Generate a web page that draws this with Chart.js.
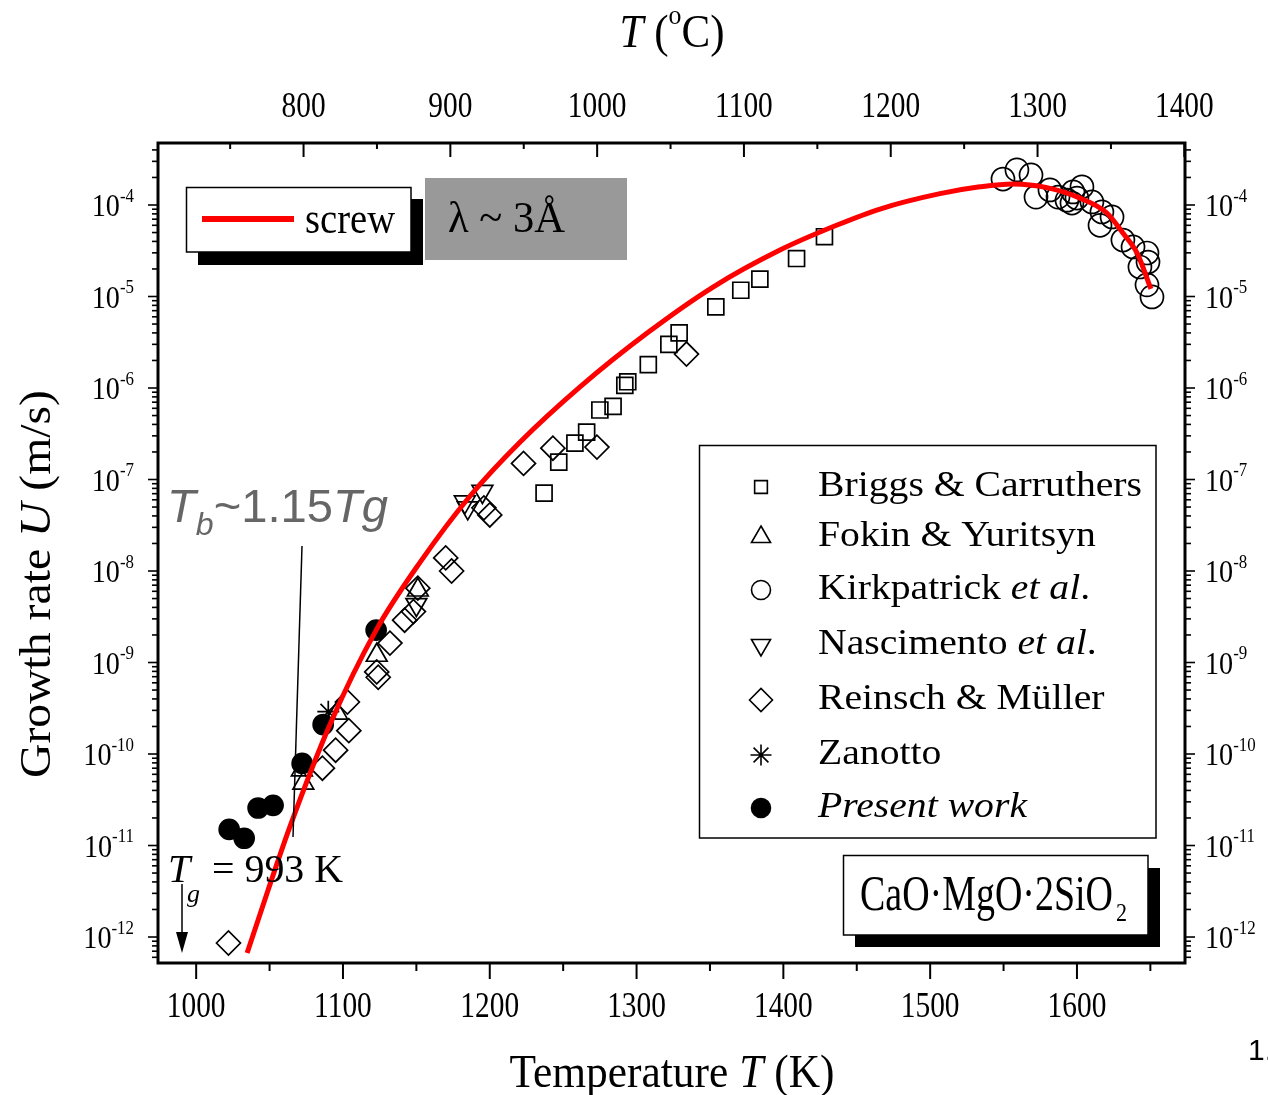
<!DOCTYPE html>
<html><head><meta charset="utf-8">
<script src="https://cdn.jsdelivr.net/npm/chart.js@4/dist/chart.umd.min.js"></script>
<style>html,body{margin:0;padding:0;background:#fff;overflow:hidden}canvas{display:block}</style>
</head><body>
<canvas id="c" width="1268" height="1095"></canvas>
<script>
// ---------------- data ----------------
const curveT = [1034.7,1049.0,1064.0,1091.3,1122.6,1152.6,1186.6,1220.7,1261.5,1307.2,1352.1,1397.7,1436.6,1465.8,1506.7,1533.9,1556.4,1579.6,1602.1,1620.4,1631.3,1640.9,1650.4];
const curveU = [6.68e-13,3.27e-12,1.63e-11,2.13e-10,2.26e-9,1.25e-8,6.6e-8,2.57e-7,1.03e-6,3.99e-6,1.27e-5,3.22e-5,6.04e-5,9.04e-5,1.33e-4,1.58e-4,1.70e-4,1.55e-4,1.19e-4,8.18e-5,4.94e-5,2.99e-5,1.21e-5];

const briggsT = [1428,1409,1384,1371,1354,1329,1322,1308,1294,1292,1284,1275,1266,1258,1247,1237];
const briggsU = [4.5e-5,2.6e-5,1.55e-5,1.17e-5,7.7e-6,4.0e-6,3.0e-6,1.8e-6,1.17e-6,1.07e-6,6.3e-7,5.75e-7,3.3e-7,2.5e-7,1.55e-7,7.1e-8];

const fokinT = [1072,1073,1096,1123,1151];
const fokinU = [6.7e-11,4.8e-11,2.8e-10,1.2e-9,6.2e-9];

const kirkT = [1549.6,1559.1,1568.7,1572.1,1581.6,1587.1,1593.2,1596.6,1600,1603.4,1597.3,1610.2,1617,1615.7,1623.9,1631.3,1638.2,1642.9,1647.7,1648.4,1647.7,1651.1];
const kirkU = [1.92e-4,2.42e-4,2.13e-4,1.22e-4,1.46e-4,1.22e-4,1.13e-4,1.05e-4,1.19e-4,1.58e-4,1.39e-4,1.08e-4,8.4e-5,6.0e-5,7.4e-5,4.14e-5,3.48e-5,2.1e-5,2.99e-5,2.38e-5,1.34e-5,9.9e-6];

const nascT = [1183,1185,1195,1150];
const nascU = [5.7e-8,4.9e-8,7.4e-8,4.3e-9];

const reinschT = [1334,1273,1243,1223,1196,1200,1170,1174,1151,1148,1142,1132,1123,1124,1103,1104,1095,1086,1022];
const reinschU = [2.35e-6,2.26e-7,2.2e-7,1.5e-7,4.9e-8,4.1e-8,1.39e-8,1.0e-8,6.5e-9,3.6e-9,2.9e-9,1.63e-9,7.9e-10,6.9e-10,3.7e-10,1.8e-10,1.1e-10,7.0e-11,8.6e-13];

const zanottoT = [1090];
const zanottoU = [2.9e-10];

const presentT = [1022.5,1032.7,1042.2,1052.4,1072.2,1086.5,1122.6];
const presentU = [1.5e-11,1.2e-11,2.57e-11,2.75e-11,7.9e-11,2.1e-10,2.26e-9];

const kTicks = [1000,1100,1200,1300,1400,1500,1600];
const kMinor = [1050,1150,1250,1350,1450,1550,1650];
const cTicks = [800,900,1000,1100,1200,1300,1400];
const cMinor = [750,850,950,1050,1150,1250,1350];
const yExps = [-12,-11,-10,-9,-8,-7,-6,-5,-4];

const legendNames = ['Briggs & Carruthers','Fokin & Yuritsyn','Kirkpatrick et al.','Nascimento et al.','Reinsch & Müller','Zanotto','Present work'];

// ---------------- helpers ----------------
const SERIF = '"Liberation Serif", "Times New Roman", serif';
const SANS = '"Liberation Sans", Arial, sans-serif';
function font(size, it, fam){ return (it?'italic ':'') + size + 'px ' + fam; }
function measureRich(ctx, segs, size, fam){
  let w=0; for(const s of segs){ ctx.font=font(size*(s.k||1), s.it, fam); w+=ctx.measureText(s.t).width; } return w;
}
function drawRich(ctx, segs, x, y, o){
  const size=o.size, fam=o.fam||SERIF;
  const nat=measureRich(ctx, segs, size, fam);
  const sx = o.width ? o.width/nat : (o.sx||1);
  const tw = nat*sx;
  const x0 = o.align==='center' ? -tw/2 : (o.align==='right' ? -tw : 0);
  ctx.save();
  ctx.translate(x,y);
  if(o.rot) ctx.rotate(o.rot);
  ctx.translate(x0,0);
  ctx.scale(sx,1);
  ctx.fillStyle=o.color||'#000';
  ctx.textBaseline='alphabetic'; ctx.textAlign='left';
  let cx=0;
  for(const s of segs){ ctx.font=font(size*(s.k||1), s.it, fam); ctx.fillText(s.t, cx, (s.dy||0)*size); cx+=ctx.measureText(s.t).width; }
  ctx.restore();
  return sx;
}
function line(ctx,x1,y1,x2,y2,w,c){ ctx.beginPath(); ctx.moveTo(x1,y1); ctx.lineTo(x2,y2); ctx.lineWidth=w; ctx.strokeStyle=c||'#000'; ctx.stroke(); }
function pts(T,U){ return T.map((t,i)=>({x:t,y:U[i]})); }

const markerStyles = [
  {pointStyle:'rect', fill:false},
  {pointStyle:'triangle', fill:false},
  {pointStyle:'circle', fill:false},
  {pointStyle:'triangle', rotation:180, fill:false},
  {pointStyle:'rectRot', fill:false},
  {pointStyle:'star', fill:false},
  {pointStyle:'circle', fill:true}
];

const framePlugin = {
  id:'frame',
  beforeDraw(chart){ const c=chart.ctx; c.save(); c.fillStyle='#fff'; c.fillRect(0,0,chart.width,chart.height); c.restore(); },
  afterDraw(chart){
    const ctx=chart.ctx, a=chart.chartArea;
    const x=chart.scales.x, x2=chart.scales.x2, y=chart.scales.y, y2=chart.scales.y2;
    ctx.save();
    ctx.lineCap='butt';
    // ticks
    for(const t of kTicks){ const px=x.getPixelForValue(t); line(ctx,px,a.bottom,px,a.bottom+16,2); }
    for(const t of kMinor){ const px=x.getPixelForValue(t); if(px<a.right) line(ctx,px,a.bottom,px,a.bottom+8,2); }
    for(const t of cTicks){ const px=x2.getPixelForValue(t); if(px<=a.right+1) line(ctx,px,a.top,px,a.top+14,2); }
    for(const t of cMinor){ const px=x2.getPixelForValue(t); line(ctx,px,a.top,px,a.top+6,2); }
    for(const e of yExps.concat([-3])){
      for(let m=1;m<=9;m++){
        const v=m*Math.pow(10,e); const py=y.getPixelForValue(v);
        if(py<a.top-1||py>a.bottom+1) continue;
        const L = m===1?10:6;
        line(ctx,a.left-L,py,a.left,py,1.6);
        line(ctx,a.right,py,a.right+L,py,1.6);
      }
    }
    for(const m of [6,7,8,9]){ const py=y.getPixelForValue(m*1e-13); if(py<=a.bottom){ line(ctx,a.left-6,py,a.left,py,1.6); line(ctx,a.right,py,a.right+6,py,1.6);} }
    // frame
    ctx.lineWidth=3; ctx.strokeStyle='#000'; ctx.strokeRect(a.left,a.top,a.right-a.left,a.bottom-a.top);

    // tick labels
    for(const t of kTicks){ drawRich(ctx,[{t:String(t)}],x.getPixelForValue(t),1017,{size:35,sx:0.84,align:'center'}); }
    for(const t of cTicks){ drawRich(ctx,[{t:String(t)}],x2.getPixelForValue(t),117,{size:35,sx:0.84,align:'center'}); }
    for(const e of yExps){
      const py=y.getPixelForValue(Math.pow(10,e));
      const segs=[{t:'10'},{t:String(e),k:0.6,dy:-0.45}];
      drawRich(ctx,segs,134,py+11,{size:32,sx:0.88,align:'right'});
      const py2=y2.getPixelForValue(Math.pow(10,e));
      drawRich(ctx,segs,1205,py2+11,{size:32,sx:0.88,align:'left'});
    }
    // axis titles
    drawRich(ctx,[{t:'T',it:1},{t:' ('},{t:'o',k:0.6,dy:-0.5},{t:'C)'}],672,47,{size:46,width:105,align:'center'});
    drawRich(ctx,[{t:'Temperature '},{t:'T',it:1},{t:' (K)'}],672,1087,{size:46,width:325,align:'center'});
    drawRich(ctx,[{t:'Growth rate '},{t:'U',it:1},{t:' (m/s)'}],50,584,{size:44,width:388,align:'center',rot:-Math.PI/2});

    // screw legend
    ctx.fillStyle='#000'; ctx.fillRect(198,199,225,66);
    ctx.fillStyle='#fff'; ctx.fillRect(186,187,225,65);
    ctx.lineWidth=1.5; ctx.strokeStyle='#000'; ctx.strokeRect(186.5,187.5,224.5,64.5);
    line(ctx,202,219,294,219,6,'#ff0000');
    drawRich(ctx,[{t:'screw'}],305,233,{size:44,width:90});
    // lambda box
    ctx.fillStyle='#999999'; ctx.fillRect(425,178,202,82);
    drawRich(ctx,[{t:'λ ~ 3Å'}],448,232,{size:44,width:117});

    // data legend
    ctx.fillStyle='#fff'; ctx.fillRect(699,445,457,393);
    ctx.lineWidth=1.5; ctx.strokeStyle='#000'; ctx.strokeRect(699.5,445.5,456.5,392.5);
    const rowY=[487,537,590,645,700,755,808];
    ctx.font=font(36,false,SERIF);
    const lsx = 324/ctx.measureText('Briggs & Carruthers').width;
    const rows=[
      [{t:'Briggs & Carruthers'}],
      [{t:'Fokin & Yuritsyn'}],
      [{t:'Kirkpatrick '},{t:'et al',it:1},{t:'.'}],
      [{t:'Nascimento '},{t:'et al',it:1},{t:'.'}],
      [{t:'Reinsch & Müller'}],
      [{t:'Zanotto'}],
      [{t:'Present work',it:1}]
    ];
    for(let i=0;i<7;i++){
      const ms=markerStyles[i];
      const legR = [9,11,9.5,11,11.5,10.5,9.5][i];
      ctx.save();
      ctx.lineWidth=1.6; ctx.strokeStyle='#000'; ctx.fillStyle=ms.fill?'#000':'rgba(0,0,0,0)';
      Chart.helpers.drawPoint(ctx,{pointStyle:ms.pointStyle,radius:legR,rotation:ms.rotation||0,borderWidth:1.6},761,rowY[i]);
      ctx.restore();
      drawRich(ctx,rows[i],818,rowY[i]+9,{size:36,sx:lsx});
    }

    // CaO box
    ctx.fillStyle='#000'; ctx.fillRect(855,868,305,79);
    ctx.fillStyle='#fff'; ctx.fillRect(843,855,305,80);
    ctx.lineWidth=1.5; ctx.strokeStyle='#000'; ctx.strokeRect(843.5,855.5,304.5,79.5);
    drawRich(ctx,[{t:'CaO·MgO·2SiO'}],860,910,{size:50,width:253});
    drawRich(ctx,[{t:'2'}],1116,921,{size:26,sx:0.85});

    // Tb annotation
    drawRich(ctx,[{t:'T',it:1},{t:'b',it:1,k:0.68,dy:0.28},{t:'~1.15'},{t:'Tg',it:1}],167,522,{size:46,width:221,fam:SANS,color:'#666666'});
    line(ctx,302,546,293,837,1.5);

    // Tg annotation
    drawRich(ctx,[{t:'T',it:1}],168,882,{size:40,sx:1});
    drawRich(ctx,[{t:'g',it:1}],187,902,{size:26,sx:1});
    drawRich(ctx,[{t:'= 993 K'}],212,882,{size:40,width:131});
    line(ctx,182,884,182,936,1.5);
    ctx.beginPath(); ctx.moveTo(182,953); ctx.lineTo(176,932); ctx.lineTo(188,932); ctx.closePath(); ctx.fillStyle='#000'; ctx.fill();

    // cropped page number
    drawRich(ctx,[{t:'1.'}],1248,1060,{size:30,fam:SANS});
    ctx.restore();
  }
};

const mk = (label,T,U,i,order)=>{
  const ms=markerStyles[i];
  const r=[11.3,12,11.5,12,12,11,10][i];
  return {label, data:pts(T,U), pointStyle:ms.pointStyle, pointRadius:r, pointRotation:ms.rotation||0,
    pointBorderWidth:1.7, borderColor:'#000', pointBorderColor:'#000',
    pointBackgroundColor: ms.fill?'#000':'rgba(0,0,0,0)', backgroundColor: ms.fill?'#000':'rgba(0,0,0,0)',
    showLine:false, order};
};

new Chart(document.getElementById('c'),{
  type:'scatter',
  data:{datasets:[
    {label:'screw', data:pts(curveT,curveU), showLine:true, borderColor:'#ff0000', borderWidth:5, pointRadius:0, cubicInterpolationMode:'monotone', fill:false, order:0},
    mk(legendNames[6],presentT,presentU,6,1),
    mk(legendNames[0],briggsT,briggsU,0,2),
    mk(legendNames[1],fokinT,fokinU,1,2),
    mk(legendNames[2],kirkT,kirkU,2,2),
    mk(legendNames[3],nascT,nascU,3,2),
    mk(legendNames[4],reinschT,reinschU,4,2),
    mk(legendNames[5],zanottoT,zanottoU,5,2)
  ]},
  options:{
    responsive:false, animation:false, devicePixelRatio:1,
    layout:{padding:{left:158, top:143, right:1268-1185, bottom:1095-963}},
    plugins:{legend:{display:false}, tooltip:{enabled:false}},
    elements:{point:{hoverRadius:0}},
    scales:{
      x:{type:'linear', min:974, max:1673.6, display:false},
      x2:{type:'linear', position:'top', min:974-273.15, max:1673.6-273.15, display:false},
      y:{type:'logarithmic', min:5.2e-13, max:4.76e-4, display:false},
      y2:{type:'logarithmic', position:'right', min:5.2e-13, max:4.76e-4, display:false}
    }
  },
  plugins:[framePlugin]
});
</script>
</body></html>
